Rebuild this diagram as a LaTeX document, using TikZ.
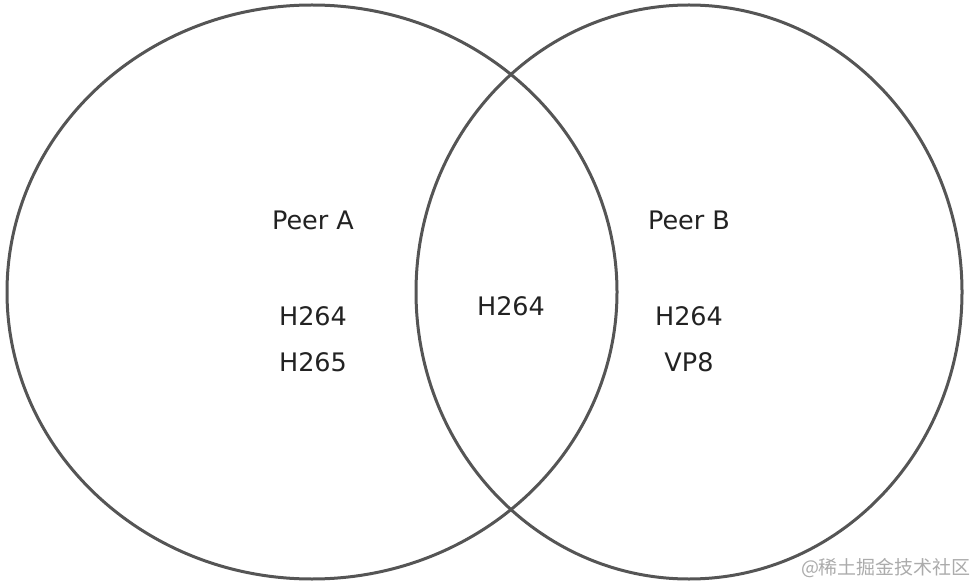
\documentclass[tikz,border=0pt]{standalone}
\usepackage{fontspec}
\setmainfont{DejaVu Sans}
\newfontfamily\cjk{Noto Sans CJK SC}
\usetikzlibrary{shapes.geometric}
\definecolor{ringgrey}{HTML}{555555}
\definecolor{labelink}{HTML}{222222}
\definecolor{markgrey}{HTML}{ABABAB}
\tikzset{
  peerset/.style={ellipse, draw=ringgrey, line width=3pt, inner sep=0pt},
  codec/.style={text=labelink, font=\fontsize{25.5}{30}\selectfont, inner sep=0pt}
}
\begin{document}
\begin{tikzpicture}[x=1pt, y=-1pt]
			\useasboundingbox (0,0) rectangle (974,585);
			\draw (312,292) node[peerset, minimum width=610pt, minimum height=574pt] (SetA) {};
			\draw (689,292) node[peerset, minimum width=546pt, minimum height=574pt] (SetB) {};
			\draw (313,220) node[codec] (PeerA) {Peer A};
			\draw (313,316) node[codec] (AOne) {H264};
			\draw (313,362) node[codec] (ATwo) {H265};
			\draw (511,306) node[codec] (Both) {H264};
			\draw (689,220) node[codec] (PeerB) {Peer B};
			\draw (689,316) node[codec] (BOne) {H264};
			\draw (689,362) node[codec] (BTwo) {VP8};
			\draw (886,568) node[text=markgrey, font=\cjk\fontsize{19}{20}\selectfont, inner sep=0pt] (Mark) {@稀土掘金技术社区};
		\end{tikzpicture}
\end{document}
